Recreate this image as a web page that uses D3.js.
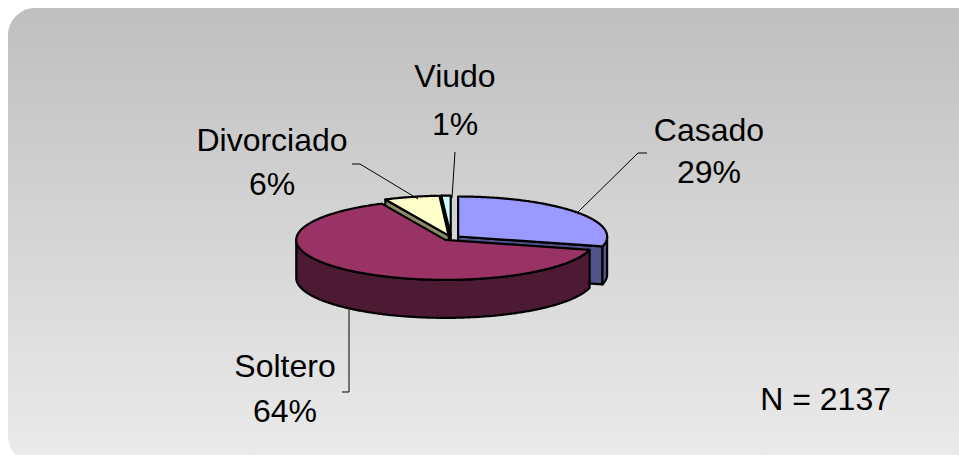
<!DOCTYPE html>
<html>
<head>
<meta charset="utf-8">
<script src="https://cdn.jsdelivr.net/npm/d3@7"></script>
<style>
  body { margin: 0; background: #fff; }
  svg { display: block; }
</style>
</head>
<body>
<div id="chart"></div>
<script>
// data
var categories = ["Casado", "Soltero", "Divorciado", "Viudo"];
var values = [29, 64, 6, 1];
var pctLabels = ["29%", "64%", "6%", "1%"];
var totalN = 2137;

var topColors = ["#9999ff", "#993366", "#ffffcc", "#ccffff"];
var sideColors = ["#52528a", "#4d1a33", "#8a8a66", "#6a8a8a"];

var svgWidth = 959;
var svgHeight = 455;

// pie geometry
var cx = 451, cy = 238;
var rx = 149, ry = 40;
var depth = 38;
var explode = 9;

var svg = d3.select("#chart")
  .append("svg")
  .attr("width", svgWidth)
  .attr("height", svgHeight);

// background panel with vertical gradient
var defs = svg.append("defs");
var grad = defs.append("linearGradient")
  .attr("id", "bg")
  .attr("x1", 0).attr("y1", 0).attr("x2", 0).attr("y2", 1);
grad.append("stop").attr("offset", "0%").attr("stop-color", "#bfbfbf");
grad.append("stop").attr("offset", "100%").attr("stop-color", "#ebebeb");

svg.append("rect")
  .attr("x", 8).attr("y", 8)
  .attr("width", 985).attr("height", 455)
  .attr("rx", 27).attr("ry", 27)
  .attr("fill", "url(#bg)");

var pie = d3.pie().sort(null).value(d => d);
var arcs = pie(values).map(function(d, i) {
  var mid = (d.startAngle + d.endAngle) / 2;
  return {
    i: i,
    a0: d.startAngle,
    a1: d.endAngle,
    mid: mid,
    x: cx + explode * Math.sin(mid),
    y: cy - explode * (ry / rx) * Math.cos(mid)
  };
});

function pt(s, a, dz) {
  return [s.x + rx * Math.sin(a), s.y - ry * Math.cos(a) + (dz || 0)];
}

function arcPoints(s, a0, a1, dz) {
  var n = Math.max(2, Math.ceil(Math.abs(a1 - a0) / 0.01));
  var pts = [];
  for (var k = 0; k <= n; k++) {
    pts.push(pt(s, a0 + (a1 - a0) * k / n, dz));
  }
  return pts;
}

var line = d3.line();

// draw back slices first
var order = arcs.slice().sort((p, q) => (-Math.cos(p.mid)) - (-Math.cos(q.mid)));

var pieGroup = svg.append("g");

order.forEach(function(s) {
  var g = pieGroup.append("g");
  var style = function(sel, fill) {
    sel.attr("fill", fill)
      .attr("stroke", "#000")
      .attr("stroke-width", 2.2)
      .attr("stroke-linejoin", "round");
  };

  // radial faces that face the viewer
  if (Math.sin(s.a0) < -1e-6) {
    var r0 = pt(s, s.a0);
    style(g.append("path").attr("d", line([[s.x, s.y], r0, [r0[0], r0[1] + depth], [s.x, s.y + depth]]) + "Z"), sideColors[s.i]);
  }
  if (Math.sin(s.a1) > 1e-6) {
    var r1 = pt(s, s.a1);
    style(g.append("path").attr("d", line([[s.x, s.y], r1, [r1[0], r1[1] + depth], [s.x, s.y + depth]]) + "Z"), sideColors[s.i]);
  }

  // outer wall, front half only
  var w0 = Math.max(s.a0, Math.PI / 2);
  var w1 = Math.min(s.a1, 3 * Math.PI / 2);
  if (w1 > w0) {
    var wall = arcPoints(s, w0, w1, 0).concat(arcPoints(s, w1, w0, depth));
    style(g.append("path").attr("d", line(wall) + "Z"), sideColors[s.i]);
  }

  // top face
  var top = [[s.x, s.y]].concat(arcPoints(s, s.a0, s.a1, 0));
  style(g.append("path").attr("d", line(top) + "Z"), topColors[s.i]);
});

// leader lines
var leaders = [
  [[647, 153], [638, 153], [578, 212]],
  [[349, 310], [349, 392], [342, 392]],
  [[352, 164], [360, 164], [418, 199]],
  [[455, 152], [452, 198]]
];
svg.append("g").selectAll("path")
  .data(leaders)
  .enter()
  .append("path")
  .attr("d", d => line(d))
  .attr("fill", "none")
  .attr("stroke", "#000")
  .attr("stroke-width", 1);

// labels
var labelPos = [
  {x: 709, y: 141, dy: 42},
  {x: 285, y: 377, dy: 45},
  {x: 272, y: 151, dy: 44},
  {x: 455, y: 87, dy: 48}
];

var labels = svg.append("g")
  .attr("font-family", "'Liberation Sans', Arial, sans-serif")
  .attr("font-size", "32px")
  .attr("fill", "#000")
  .attr("text-anchor", "middle");

categories.forEach(function(c, i) {
  var p = labelPos[i];
  var t = labels.append("text").attr("x", p.x).attr("y", p.y);
  t.append("tspan").attr("x", p.x).text(c);
  t.append("tspan").attr("x", p.x).attr("dy", p.dy).text(pctLabels[i]);
});

svg.append("text")
  .attr("x", 891)
  .attr("y", 410)
  .attr("text-anchor", "end")
  .attr("font-family", "'Liberation Sans', Arial, sans-serif")
  .attr("font-size", "32px")
  .attr("fill", "#000")
  .text("N = " + totalN);
</script>
</body>
</html>
